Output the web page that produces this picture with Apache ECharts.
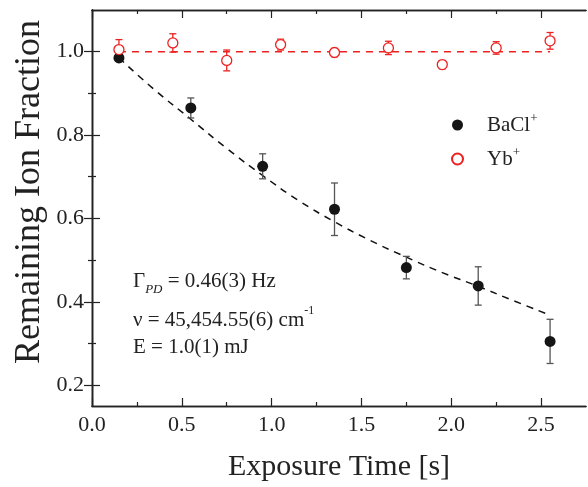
<!DOCTYPE html>
<html>
<head>
<meta charset="utf-8">
<script src="https://cdn.jsdelivr.net/npm/echarts@6/dist/echarts.min.js"></script>
<style>
html,body{margin:0;padding:0;background:#fff;}
#c{width:588px;height:487px;}
</style>
</head>
<body>
<div id="c"></div>
<script>
// ---- data ----
const baclX   = [0.15, 0.55, 0.95, 1.35, 1.75, 2.15, 2.55];
const baclY   = [0.985, 0.865, 0.725, 0.622, 0.482, 0.438, 0.305];
const baclErr = [0.006, 0.024, 0.030, 0.063, 0.027, 0.046, 0.053];

const ybX   = [0.15, 0.45, 0.75, 1.05, 1.35, 1.65, 1.95, 2.25, 2.55];
const ybY   = [1.005, 1.021, 0.979, 1.017, 0.998, 1.009, 0.969, 1.009, 1.026];
const ybErr = [0.024, 0.022, 0.025, 0.013, 0.010, 0.016, 0.010, 0.015, 0.020];

const fitX = [0.15, 0.35, 0.55, 0.75, 0.95, 1.15, 1.35, 1.55, 1.75, 1.95, 2.15, 2.35, 2.55];
const fitY = [0.985, 0.908, 0.838, 0.768, 0.703, 0.643, 0.592, 0.547, 0.507, 0.470, 0.437, 0.402, 0.368];

const ybFitX = [0.15, 2.55];
const ybFitY = [1.0, 1.0];

const xTicks = [0, 0.5, 1.0, 1.5, 2.0, 2.5];
const xMinor = [0.25, 0.75, 1.25, 1.75, 2.25];
const yTicks = [0.2, 0.4, 0.6, 0.8, 1.0];
const yMinor = [0.3, 0.5, 0.7, 0.9];

const X_MIN = 0, X_MAX = 2.75, Y_MIN = 0.15, Y_MAX = 1.1;

const FONT = '"Liberation Serif", "Times New Roman", serif';
const TXT = '#222';
const RED = '#ee2020';

const chart = echarts.init(document.getElementById('c'), null, {renderer: 'canvas'});

function axis(kind, pos, vals, len, withLabels, extra) {
  const a = {
    type: 'value', position: pos,
    min: kind === 'x' ? X_MIN : Y_MIN,
    max: kind === 'x' ? X_MAX : Y_MAX,
    axisLine: {show: true, lineStyle: {color: TXT, width: 1.3}},
    axisTick: {show: true, inside: true, length: len, customValues: vals,
               lineStyle: {color: TXT, width: 1.2}},
    axisLabel: withLabels ? {
      show: true, customValues: vals, margin: 8,
      formatter: v => Number(v).toFixed(1),
      fontFamily: FONT, fontSize: 22, color: TXT
    } : {show: false},
    splitLine: {show: false}
  };
  return Object.assign(a, extra || {});
}

function errRender(color, cap) {
  return function (params, api) {
    const x = api.value(0), y = api.value(1), e = api.value(2);
    const p1 = api.coord([x, y + e]);
    const p2 = api.coord([x, y - e]);
    const st = {stroke: color, lineWidth: 1.3};
    return {
      type: 'group',
      children: [
        {type: 'line', shape: {x1: p1[0], y1: p1[1], x2: p2[0], y2: p2[1]}, style: st},
        {type: 'line', shape: {x1: p1[0] - cap, y1: p1[1], x2: p1[0] + cap, y2: p1[1]}, style: st},
        {type: 'line', shape: {x1: p2[0] - cap, y1: p2[1], x2: p2[0] + cap, y2: p2[1]}, style: st}
      ]
    };
  };
}

const zip = (a, b) => a.map((v, i) => [v, b[i]]);
const zip3 = (a, b, c) => a.map((v, i) => [v, b[i], c[i]]);

const supRich = {sup: {fontSize: 13, fontFamily: FONT, color: TXT, verticalAlign: 'top', lineHeight: 12}};

const option = {
  backgroundColor: '#fff',
  animation: false,
  grid: {left: 92, right: 2, top: 10, bottom: 78},
  xAxis: [
    axis('x', 'bottom', xTicks, 8, true, {
      name: 'Exposure Time [s]', nameLocation: 'middle', nameGap: 46,
      nameTextStyle: {fontFamily: FONT, fontSize: 30, color: TXT}
    }),
    axis('x', 'bottom', xMinor, 4, false),
    axis('x', 'top', xTicks, 8, false),
    axis('x', 'top', xMinor, 4, false)
  ],
  yAxis: [
    axis('y', 'left', yTicks, 8, true),
    axis('y', 'left', yMinor, 4, false),
    axis('y', 'right', yTicks, 8, false),
    axis('y', 'right', yMinor, 4, false)
  ],
  graphic: [
    {type: 'text', x: 30, y: 192, rotation: Math.PI / 2, silent: true,
     style: {text: 'Remaining Ion Fraction', font: '36px ' + FONT, fill: TXT,
             align: 'center', verticalAlign: 'middle'}}
  ],
  legend: {
    orient: 'vertical', left: 446, top: 107,
    itemWidth: 11, itemHeight: 11, itemGap: 8,
    data: ['BaCl+', 'Yb+'],
    formatter: n => n.slice(0, -1) + '{sup|+}',
    textStyle: {fontFamily: FONT, fontSize: 21, color: TXT, lineHeight: 26,
                padding: [0, 0, 0, 19], rich: supRich}
  },
  title: [
    {left: 133, top: 266, padding: 0,
     text: 'Γ{sub|PD} = 0.46(3) Hz',
     textStyle: {fontFamily: FONT, fontSize: 21, fontWeight: 'normal', color: TXT, lineHeight: 30,
                 rich: {sub: {fontSize: 13, fontStyle: 'italic', fontFamily: FONT, color: TXT,
                              verticalAlign: 'bottom', lineHeight: 13}}}},
    {left: 133, top: 305, padding: 0,
     text: 'ν = 45,454.55(6) cm{sup|-1}',
     textStyle: {fontFamily: FONT, fontSize: 21, fontWeight: 'normal', color: TXT, lineHeight: 30,
                 rich: {sup: {fontSize: 12, fontFamily: FONT, color: TXT, verticalAlign: 'top', lineHeight: 13}}}},
    {left: 133, top: 332, padding: 0,
     text: 'E = 1.0(1) mJ',
     textStyle: {fontFamily: FONT, fontSize: 21, fontWeight: 'normal', color: TXT, lineHeight: 30}}
  ],
  series: [
    {name: 'BaCl fit', type: 'line', data: zip(fitX, fitY), smooth: true, symbol: 'none',
     lineStyle: {color: '#111', width: 1.5, type: [7, 6]}, z: 1, silent: true},
    {name: 'Yb fit', type: 'line', data: zip(ybFitX, ybFitY), symbol: 'none',
     lineStyle: {color: RED, width: 1.6, type: [7, 6]}, z: 1, silent: true},
    {name: 'BaCl err', type: 'custom', data: zip3(baclX, baclY, baclErr),
     renderItem: errRender('#555', 3.5), z: 2},
    {name: 'Yb err', type: 'custom', data: zip3(ybX, ybY, ybErr),
     renderItem: errRender(RED, 3.5), z: 2},
    {name: 'BaCl+', type: 'scatter', data: zip(baclX, baclY), symbol: 'circle', symbolSize: 11,
     itemStyle: {color: '#151515', opacity: 1}, z: 3},
    {name: 'Yb+', type: 'scatter', data: zip(ybX, ybY), symbol: 'circle', symbolSize: 10,
     itemStyle: {color: '#fff', borderColor: RED, borderWidth: 1.3, opacity: 1}, z: 3}
  ]
};
chart.setOption(option);
</script>
</body>
</html>
